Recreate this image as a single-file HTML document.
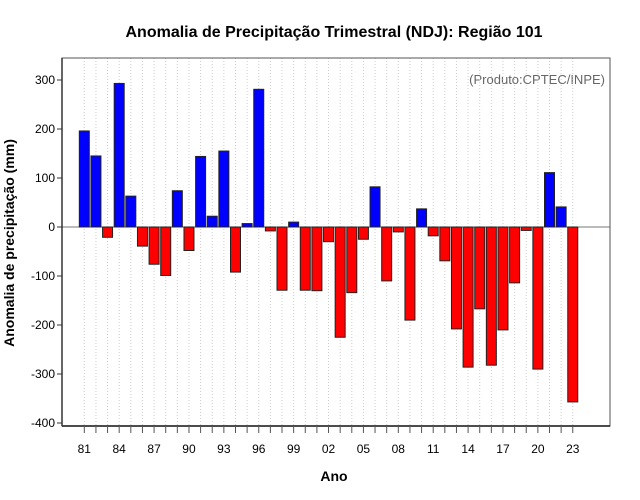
<!DOCTYPE html>
<html><head><meta charset="utf-8"><style>
body{margin:0;background:#fff;}
svg{display:block;font-family:"Liberation Sans",sans-serif;}
</style></head><body>
<svg id="chart" width="640" height="500">
<text x="334" y="37" text-anchor="middle" font-size="16" font-weight="bold">Anomalia de Precipitação Trimestral (NDJ): Região 101</text>
<text x="334" y="481" text-anchor="middle" font-size="14" font-weight="bold">Ano</text>
<text transform="translate(14,243) rotate(-90)" text-anchor="middle" font-size="14" font-weight="bold">Anomalia de precipitação (mm)</text>
<text x="605" y="84" text-anchor="end" font-size="13" fill="#666">(Produto:CPTEC/INPE)</text>
<g id="grid"></g><g id="bars"></g><g id="axes"></g>
</svg>
<script>
const years=[81,82,83,84,85,86,87,88,89,90,91,92,93,94,95,96,97,98,99,0,1,2,3,4,5,6,7,8,9,10,11,12,13,14,15,16,17,18,19,20,21,22,23];
const anomalies=[196,145,-21,293,63,-39,-76,-99,74,-48,144,22,155,-92,7,281,-8,-129,10,-129,-130,-30,-225,-134,-25,82,-110,-10,-190,37,-18,-69,-208,-286,-167,-282,-210,-114,-7,-290,111,41,-357];
const yTicks=[300,200,100,0,-100,-200,-300,-400];
const NS='http://www.w3.org/2000/svg';
const L=62,R=610,T=58,B=426;
const y=v=>227-v*0.49;
const x=i=>84.3+i*11.63;
function mk(t,a,p){const e=document.createElementNS(NS,t);for(const k in a)e.setAttribute(k,a[k]);p.appendChild(e);return e;}
const grid=document.getElementById('grid'),bars=document.getElementById('bars'),axes=document.getElementById('axes');
years.forEach((yr,i)=>{
 const g=mk('line',{x1:x(i),x2:x(i),y1:T,y2:B,stroke:'#ccc','stroke-dasharray':'1,2','stroke-width':1},grid);
 
 
});
const z=mk('line',{x1:L,x2:R,y1:y(0),y2:y(0),stroke:'#777','stroke-width':1},grid);


anomalies.forEach((v,i)=>{
 const top=Math.min(y(v),y(0)),h=Math.abs(y(v)-y(0));
 const r=mk('rect',{x:x(i)-5,y:top,width:10,height:h,fill:v>=0?'#0000ff':'#ff0000',stroke:'#222','stroke-width':1},bars);
 
 
});
const box=mk('rect',{x:L,y:T,width:R-L,height:B-T,fill:'none',stroke:'#555','stroke-width':1},axes);


mk('line',{x1:L,x2:R,y1:B,y2:B,stroke:'#111','stroke-width':1.5},axes);
mk('line',{x1:L,x2:L,y1:T,y2:B,stroke:'#333','stroke-width':1.5},axes);
yTicks.forEach(v=>{
 mk('line',{x1:L-5,x2:L,y1:y(v),y2:y(v),stroke:'#333'},axes);
 const t=mk('text',{x:L-7,y:y(v)+4,'text-anchor':'end','font-size':12},axes);
 t.textContent=v;
 
 
});
years.forEach((yr,i)=>{
 mk('line',{x1:x(i),x2:x(i),y1:B,y2:B+7,stroke:'#555'},axes);
 if(i%3===0){
  const t=mk('text',{x:x(i),y:B+27,'text-anchor':'middle','font-size':12},axes);
  t.textContent=String(yr).padStart(2,'0');
  
  
 }
});
</script>
</body></html>
